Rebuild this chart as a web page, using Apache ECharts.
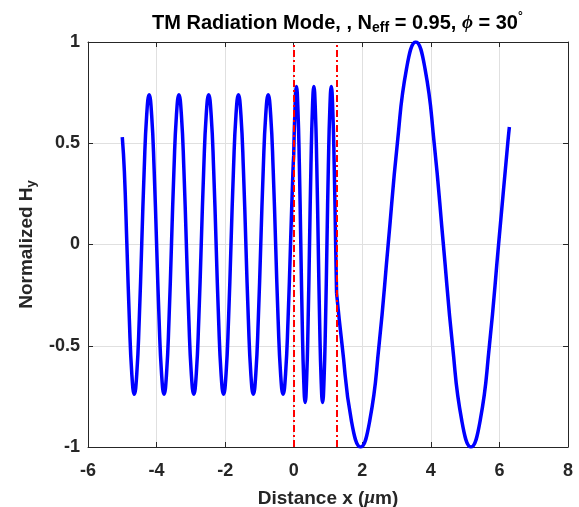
<!DOCTYPE html>
<html>
<head>
<meta charset="utf-8">
<script src="https://cdn.jsdelivr.net/npm/echarts@6/dist/echarts.min.js"></script>
<style>
  html, body { margin: 0; padding: 0; background: #fff; }
  #chart { width: 579px; height: 507px; }
</style>
</head>
<body>
<div id="chart"></div>
<script>
// Hy field, [x (um), normalized Hy]
// region 1: x < 0 (cover)
const region1 = [
  [-5.000, 0.53], [-4.939, 0.36], [-4.866, 0.00], [-4.794, -0.37], [-4.722, -0.64],
  [-4.650, -0.74], [-4.578, -0.64], [-4.505, -0.37], [-4.433, 0.00], [-4.361, 0.37],
  [-4.288, 0.64], [-4.216, 0.74], [-4.144, 0.64], [-4.071, 0.37], [-3.999, 0.00],
  [-3.927, -0.37], [-3.854, -0.64], [-3.782, -0.74], [-3.710, -0.64], [-3.637, -0.37],
  [-3.565, 0.00], [-3.493, 0.37], [-3.420, 0.64], [-3.348, 0.74], [-3.276, 0.64],
  [-3.203, 0.37], [-3.131, 0.00], [-3.059, -0.37], [-2.986, -0.64], [-2.914, -0.74],
  [-2.842, -0.64], [-2.769, -0.37], [-2.697, 0.00], [-2.625, 0.37], [-2.552, 0.64],
  [-2.480, 0.74], [-2.408, 0.64], [-2.335, 0.37], [-2.263, 0.00], [-2.191, -0.37],
  [-2.118, -0.64], [-2.046, -0.74], [-1.974, -0.64], [-1.901, -0.37], [-1.829, 0.00],
  [-1.757, 0.37], [-1.684, 0.64], [-1.612, 0.74], [-1.540, 0.64], [-1.467, 0.37],
  [-1.395, 0.00], [-1.323, -0.37], [-1.250, -0.64], [-1.178, -0.74], [-1.106, -0.64],
  [-1.033, -0.37], [-0.961, 0.00], [-0.889, 0.37], [-0.816, 0.64], [-0.744, 0.74],
  [-0.672, 0.64], [-0.599, 0.37], [-0.527, 0.00], [-0.455, -0.37], [-0.382, -0.64],
  [-0.310, -0.74], [-0.238, -0.64], [-0.165, -0.37], [-0.093, 0.00], [-0.021, 0.37],
  [0.000, 0.44]
];
// region 2: 0 < x < 1.25 (film)
const region2 = [
  [0.000, 0.44], [0.038, 0.67], [0.080, 0.78], [0.122, 0.67], [0.165, 0.39],
  [0.207, 0.00], [0.249, -0.39], [0.292, -0.67], [0.334, -0.78], [0.376, -0.67],
  [0.419, -0.39], [0.461, 0.00], [0.503, 0.39], [0.546, 0.67], [0.588, 0.78],
  [0.630, 0.67], [0.673, 0.39], [0.715, 0.00], [0.757, -0.39], [0.800, -0.67],
  [0.842, -0.78], [0.884, -0.67], [0.927, -0.39], [0.969, 0.00], [1.011, 0.39],
  [1.054, 0.67], [1.096, 0.78], [1.138, 0.67], [1.181, 0.39], [1.223, 0.00],
  [1.250, -0.24]
];
// region 3: x > 1.25 (substrate)
const region3 = [
  [1.250, -0.24], [1.413, -0.50], [1.682, -0.87], [1.950, -1.00], [2.218, -0.87],
  [2.487, -0.50], [2.755, 0.00], [3.023, 0.50], [3.292, 0.87], [3.560, 1.00],
  [3.828, 0.87], [4.097, 0.50], [4.365, 0.00], [4.633, -0.50], [4.902, -0.87],
  [5.170, -1.00], [5.438, -0.87], [5.707, -0.50], [5.975, 0.00], [6.243, 0.50],
  [6.290, 0.58]
];
const interfaces = [0, 1.25];

const axisCol = "#262626";
const fontFam = "'Liberation Sans', Arial, sans-serif";

const chart = echarts.init(document.getElementById("chart"));

const curve = (data) => ({
  type: "line",
  data: data,
  smooth: 0.5,
  showSymbol: false,
  lineStyle: { color: "#0000ff", width: 3.5 },
  z: 3,
});

const opcoes = {
  animation: false,
  title: {
    text: "TM Radiation Mode, , N{sub|eff} = 0.95, {phi|ϕ} = 30{sup|°}",
    left: 147,
    top: 6,
    textStyle: {
      fontFamily: fontFam,
      fontWeight: "bold",
      fontSize: 20,
      color: "#000",
      rich: {
        sub: { fontFamily: fontFam, fontWeight: "bold", fontSize: 14, verticalAlign: "bottom", padding: [10, 0, 0, 0] },
        phi: { fontFamily: "'Liberation Serif', serif", fontStyle: "italic", fontSize: 19 },
        sup: { fontFamily: fontFam, fontSize: 12, padding: [0, 0, 12, 0] },
      },
    },
  },
  grid: { left: 88, right: 11, top: 42, bottom: 60, outerBoundsMode: "none" },
  xAxis: [
    {
      type: "value",
      min: -6,
      max: 8,
      interval: 2,
      name: "Distance x ({mu|μ}m)",
      nameLocation: "middle",
      nameGap: 42,
      nameTextStyle: {
        fontFamily: fontFam, fontWeight: "bold", fontSize: 19, color: axisCol,
        rich: { mu: { fontFamily: "'Liberation Serif', serif", fontStyle: "italic", fontSize: 19, color: axisCol } },
      },
      axisLine: { onZero: false, lineStyle: { color: axisCol, width: 1 } },
      axisTick: { inside: true, length: 5, lineStyle: { color: axisCol } },
      axisLabel: { fontFamily: fontFam, fontWeight: "bold", fontSize: 18, color: axisCol, margin: 15 },
      splitLine: { show: true, lineStyle: { color: "#e0e0e0", width: 1 } },
    },
    {
      type: "value",
      position: "top",
      min: -6,
      max: 8,
      interval: 2,
      axisLine: { show: true, onZero: false, lineStyle: { color: axisCol, width: 1 } },
      axisTick: { inside: true, length: 5, lineStyle: { color: axisCol } },
      axisLabel: { show: false },
      splitLine: { show: false },
    },
  ],
  yAxis: [
    {
      type: "value",
      min: -1,
      max: 1,
      interval: 0.5,
      name: "Normalized H{sub|y}",
      nameLocation: "middle",
      nameRotate: 90,
      nameGap: 50,
      nameTextStyle: {
        fontFamily: fontFam, fontWeight: "bold", fontSize: 19, color: axisCol,
        rich: { sub: { fontFamily: fontFam, fontWeight: "bold", fontSize: 13, color: axisCol, padding: [10, 0, 0, 0] } },
      },
      axisLine: { show: true, onZero: false, lineStyle: { color: axisCol, width: 1 } },
      axisTick: { inside: true, length: 5, lineStyle: { color: axisCol } },
      axisLabel: { fontFamily: fontFam, fontWeight: "bold", fontSize: 18, color: axisCol, margin: 8 },
      splitLine: { show: true, lineStyle: { color: "#e0e0e0", width: 1 } },
    },
    {
      type: "value",
      position: "right",
      min: -1,
      max: 1,
      interval: 0.5,
      axisLine: { show: true, onZero: false, lineStyle: { color: axisCol, width: 1 } },
      axisTick: { inside: true, length: 5, lineStyle: { color: axisCol } },
      axisLabel: { show: false },
      splitLine: { show: false },
    },
  ],
  series: [
    curve(region1),
    curve(region2),
    curve(region3),
    {
      type: "line",
      data: [],
      markLine: {
        silent: true,
        symbol: ["none", "none"],
        label: { show: false },
        lineStyle: { color: "#ff0000", width: 2, type: [7, 3, 2, 3] },
        data: interfaces.map((x) => ({ xAxis: x })),
      },
      z: 4,
    },
  ],
};

chart.setOption(opcoes);
</script>
</body>
</html>
